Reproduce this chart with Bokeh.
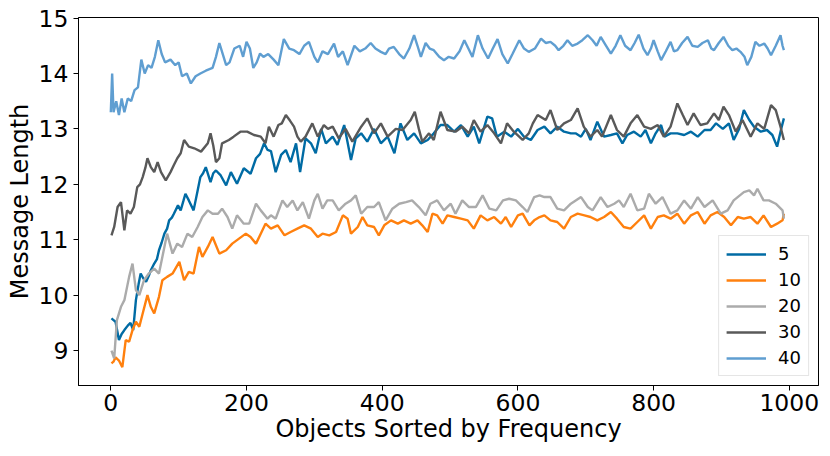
from bokeh.plotting import figure
from bokeh.models import Range1d, FixedTicker
from bokeh.embed import file_html
from bokeh.resources import INLINE

series_names = ["5", "10", "20", "30", "40"]
series_colors = ["#006BA4", "#FF800E", "#ABABAB", "#595959", "#5F9ED1"]

x5 = [1, 4, 7, 12, 16, 20, 25, 29, 33, 37, 41, 44, 48, 52, 56, 59, 64, 68, 71, 75, 79, 83, 86, 90, 93, 99,
      103, 107, 110, 115, 122, 128, 132, 136, 140, 147, 151, 155, 162, 170, 177, 186, 196, 206, 214, 220,
      226, 231, 236, 243, 251, 258, 265, 273, 279, 287, 295, 302, 310, 317, 327, 334, 344, 354, 361, 369,
      378, 388, 398, 408, 418, 427, 437, 447, 457, 467, 476, 486, 496, 506, 516, 526, 535, 543, 555, 562,
      569, 580, 590, 600, 609, 619, 629, 639, 648, 658, 668, 678, 685, 693, 700, 707, 717, 727, 737, 746,
      754, 761, 771, 781, 788, 796, 803, 811, 816, 825, 835, 845, 855, 865, 875, 884, 892, 902, 911, 918,
      926, 933, 941, 948, 958, 967, 975, 982, 988, 992]
y5 = [9.58, 9.55, 9.52, 9.19, 9.3, 9.37, 9.45, 9.5, 9.37, 9.91, 10.2, 10.39, 10.3, 10.24, 10.35, 10.45, 10.57,
      10.65, 10.81, 10.95, 11.11, 11.2, 11.35, 11.4, 11.47, 11.62, 11.53, 11.7, 11.83, 11.71, 11.53, 11.89,
      12.13, 12.2, 12.31, 12.04, 12.2, 12.25, 12.16, 11.98, 12.22, 12.01, 12.29, 12.19, 12.47, 12.55, 12.74,
      12.62, 12.6, 12.22, 12.53, 12.62, 12.4, 12.74, 12.22, 12.83, 12.74, 12.56, 13.0, 12.74, 12.86, 12.71,
      13.07, 12.44, 12.83, 12.92, 12.77, 13.0, 12.74, 12.86, 12.56, 13.1, 12.8, 12.92, 12.74, 12.8, 12.92,
      13.07, 13.07, 12.95, 13.07, 12.86, 13.04, 12.74, 13.22, 13.19, 12.86, 12.95, 12.86, 13.0, 12.86, 12.8,
      12.98, 13.04, 12.92, 13.04, 12.95, 12.92, 12.92, 12.86, 13.0, 12.8, 13.13, 12.86, 12.89, 12.92, 12.74,
      12.89, 12.95, 12.86, 12.98, 12.74, 12.92, 13.07, 12.86, 12.92, 12.92, 12.89, 12.95, 12.86, 12.98,
      12.98, 13.1, 13.0, 13.1, 12.8, 13.0, 13.34, 13.16, 13.04, 12.95, 12.98, 12.89, 12.68, 13.0, 13.19]

x10 = [1, 4, 7, 12, 17, 22, 27, 32, 37, 42, 47, 54, 59, 64, 71, 76, 83, 91, 101, 108, 115, 122, 130, 135,
       143, 150, 160, 170, 179, 189, 199, 206, 214, 221, 228, 236, 246, 256, 265, 275, 285, 295, 305, 312,
       322, 332, 342, 349, 354, 364, 371, 378, 388, 395, 403, 413, 423, 432, 442, 452, 459, 467, 474, 481,
       489, 496, 506, 516, 526, 535, 545, 555, 565, 575, 582, 590, 600, 607, 617, 624, 632, 639, 648, 658,
       668, 678, 688, 698, 707, 717, 727, 737, 746, 756, 766, 776, 786, 796, 806, 815, 825, 835, 845, 855,
       865, 875, 884, 894, 904, 914, 924, 933, 943, 953, 962, 973, 982, 990, 992]
y10 = [8.77, 8.8, 8.88, 8.82, 8.7, 9.19, 9.16, 9.37, 9.52, 9.43, 9.67, 10.0, 9.79, 9.67, 9.97, 10.27, 10.33,
       10.39, 10.6, 10.27, 10.42, 10.39, 10.87, 10.69, 10.87, 11.05, 10.75, 10.81, 10.93, 11.02, 11.11,
       11.05, 10.93, 11.11, 11.29, 11.2, 11.26, 11.08, 11.14, 11.2, 11.26, 11.2, 11.05, 11.11, 11.08, 11.14,
       11.44, 11.38, 11.11, 11.23, 11.41, 11.26, 11.23, 11.08, 11.26, 11.35, 11.29, 11.35, 11.29, 11.35,
       11.26, 11.14, 11.47, 11.44, 11.29, 11.44, 11.41, 11.38, 11.35, 11.2, 11.44, 11.35, 11.41, 11.29,
       11.41, 11.23, 11.44, 11.47, 11.26, 11.35, 11.41, 11.44, 11.35, 11.32, 11.2, 11.41, 11.47, 11.44,
       11.41, 11.35, 11.41, 11.5, 11.38, 11.23, 11.2, 11.32, 11.44, 11.2, 11.41, 11.44, 11.38, 11.47, 11.29,
       11.44, 11.5, 11.29, 11.44, 11.5, 11.41, 11.26, 11.41, 11.38, 11.41, 11.29, 11.44, 11.23, 11.29,
       11.35, 11.47]

x20 = [1, 5, 9, 15, 20, 27, 32, 37, 42, 49, 56, 64, 71, 79, 83, 91, 98, 105, 113, 120, 128, 135, 143, 150,
       158, 164, 172, 179, 186, 196, 204, 214, 221, 231, 236, 243, 253, 260, 268, 275, 283, 292, 300, 305,
       312, 319, 327, 336, 346, 354, 361, 369, 378, 388, 395, 405, 415, 425, 435, 444, 454, 464, 471, 481,
       491, 501, 508, 518, 528, 538, 548, 558, 568, 578, 587, 597, 607, 614, 624, 632, 639, 648, 658, 668,
       678, 693, 703, 710, 722, 732, 742, 749, 756, 766, 776, 786, 793, 803, 813, 825, 835, 845, 855, 865,
       875, 887, 899, 909, 918, 933, 941, 948, 953, 962, 970, 980, 990, 992]
y20 = [9.0, 8.86, 9.55, 9.79, 9.91, 10.33, 10.57, 10.09, 10.0, 10.27, 10.39, 10.48, 10.39, 10.87, 11.11,
       10.75, 10.93, 10.87, 11.11, 11.05, 11.23, 11.41, 11.53, 11.47, 11.47, 11.56, 11.41, 11.2, 11.44, 11.29,
       11.29, 11.65, 11.53, 11.38, 11.44, 11.38, 11.71, 11.59, 11.71, 11.53, 11.68, 11.38, 11.71, 11.83,
       11.56, 11.71, 11.71, 11.53, 11.65, 11.71, 11.8, 11.47, 11.59, 11.59, 11.68, 11.35, 11.56, 11.65,
       11.68, 11.71, 11.59, 11.44, 11.65, 11.71, 11.53, 11.65, 11.47, 11.71, 11.59, 11.59, 11.8, 11.56,
       11.53, 11.71, 11.74, 11.71, 11.59, 11.5, 11.77, 11.8, 11.77, 11.77, 11.56, 11.53, 11.65, 11.77, 11.59,
       11.53, 11.77, 11.59, 11.65, 11.71, 11.59, 11.83, 11.53, 11.56, 11.83, 11.65, 11.77, 11.47, 11.53,
       11.71, 11.56, 11.77, 11.59, 11.71, 11.47, 11.53, 11.71, 11.86, 11.89, 11.8, 11.92, 11.71, 11.71,
       11.65, 11.53, 11.38]

x30 = [1, 5, 10, 15, 20, 24, 29, 34, 39, 43, 47, 51, 54, 59, 64, 69, 74, 81, 88, 93, 98, 103, 108, 115, 123,
       133, 143, 147, 151, 155, 160, 164, 174, 181, 191, 201, 211, 221, 228, 233, 240, 247, 252, 258, 264,
       270, 275, 280, 287, 297, 305, 314, 320, 327, 336, 346, 356, 369, 378, 388, 398, 408, 420, 430, 442,
       448, 454, 459, 469, 476, 486, 496, 508, 518, 528, 535, 545, 555, 565, 575, 584, 594, 607, 616, 622,
       629, 641, 648, 658, 668, 678, 688, 697, 707, 717, 724, 737, 746, 756, 766, 776, 786, 796, 806, 815,
       825, 835, 843, 850, 859, 869, 879, 889, 896, 903, 911, 921, 931, 943, 953, 963, 973, 980, 987, 992]
y30 = [11.08, 11.23, 11.59, 11.68, 11.17, 11.53, 11.47, 11.59, 11.95, 12.0, 12.13, 12.3, 12.47, 12.31, 12.22,
       12.4, 12.22, 12.07, 12.22, 12.35, 12.47, 12.56, 12.8, 12.68, 12.65, 12.59, 12.74, 12.92, 12.7, 12.4,
       12.47, 12.74, 12.8, 12.86, 12.95, 12.95, 12.89, 12.86, 12.74, 13.04, 12.86, 13.07, 13.1, 13.25,
       13.15, 13.04, 12.86, 12.77, 12.86, 13.1, 12.86, 13.07, 13.0, 13.04, 12.83, 13.0, 12.77, 13.04, 13.19,
       12.92, 13.1, 12.86, 13.0, 12.98, 13.16, 13.31, 13.0, 12.77, 12.92, 12.8, 13.31, 12.98, 12.95, 13.04,
       12.92, 13.16, 12.95, 13.07, 12.92, 12.74, 13.1, 12.95, 12.8, 12.92, 13.1, 13.25, 13.16, 13.34, 12.98,
       13.1, 13.16, 13.37, 13.04, 12.86, 12.98, 12.86, 13.25, 12.98, 12.86, 13.1, 13.25, 13.04, 13.0, 13.07,
       12.86, 13.04, 13.46, 13.25, 13.07, 13.28, 13.07, 13.1, 13.28, 13.16, 13.4, 13.25, 12.95, 13.16,
       12.86, 13.1, 13.0, 13.43, 13.34, 13.04, 12.8]

x40 = [0, 2, 4, 8, 12, 16, 20, 25, 30, 35, 40, 45, 50, 55, 60, 65, 70, 75, 80, 88, 95, 100, 105, 112, 118,
       125, 132, 140, 150, 155, 160, 165, 170, 175, 182, 190, 195, 200, 205, 210, 215, 220, 225, 232, 240,
       247, 255, 263, 270, 278, 285, 292, 300, 305, 312, 320, 329, 335, 342, 349, 359, 367, 375, 383, 390,
       398, 405, 410, 417, 425, 432, 440, 447, 452, 457, 464, 470, 476, 484, 491, 498, 506, 514, 521, 527,
       533, 541, 548, 556, 563, 570, 577, 585, 592, 602, 609, 616, 625, 634, 641, 648, 655, 660, 667, 673,
       680, 688, 695, 703, 710, 716, 722, 730, 737, 744, 751, 758, 766, 772, 778, 785, 791, 796, 800, 806,
       811, 818, 825, 830, 835, 842, 850, 857, 865, 872, 880, 885, 889, 896, 903, 910, 916, 922, 928, 934,
       938, 944, 950, 956, 963, 968, 973, 980, 987, 990, 992]
y40 = [13.3, 14.0, 13.3, 13.5, 13.25, 13.55, 13.3, 13.55, 13.5, 13.7, 13.75, 14.25, 14.0, 14.15, 14.1, 14.3,
       14.6, 14.35, 14.2, 14.25, 14.15, 14.2, 13.95, 14.0, 13.82, 13.95, 14.0, 14.05, 14.1, 14.3, 14.55,
       14.35, 14.15, 14.2, 14.45, 14.5, 14.3, 14.57, 14.45, 14.1, 14.2, 14.36, 14.3, 14.35, 14.25, 14.15,
       14.62, 14.45, 14.42, 14.35, 14.5, 14.57, 14.3, 14.2, 14.4, 14.35, 14.54, 14.3, 14.4, 14.15, 14.5,
       14.4, 14.45, 14.55, 14.45, 14.39, 14.35, 14.45, 14.48, 14.35, 14.27, 14.45, 14.69, 14.5, 14.3, 14.55,
       14.45, 14.42, 14.3, 14.24, 14.3, 14.27, 14.4, 14.6, 14.45, 14.3, 14.69, 14.45, 14.27, 14.45, 14.62,
       14.35, 14.18, 14.35, 14.6, 14.45, 14.39, 14.45, 14.63, 14.55, 14.57, 14.5, 14.42, 14.5, 14.6, 14.5,
       14.54, 14.6, 14.69, 14.6, 14.5, 14.66, 14.5, 14.36, 14.5, 14.69, 14.5, 14.42, 14.55, 14.7, 14.45,
       14.33, 14.45, 14.6, 14.4, 14.24, 14.4, 14.57, 14.4, 14.42, 14.55, 14.66, 14.5, 14.48, 14.55, 14.6,
       14.45, 14.42, 14.55, 14.66, 14.5, 14.42, 14.45, 14.39, 14.3, 14.15, 14.3, 14.57, 14.5, 14.54, 14.45,
       14.33, 14.5, 14.69, 14.5, 14.42]

x_ticks = [0, 200, 400, 600, 800, 1000]
y_ticks = [9, 10, 11, 12, 13, 14, 15]
x_label = "Objects Sorted by Frequency"
y_label = "Message Length"

FONT = "DejaVu Sans"

p = figure(width=822, height=448, output_backend="svg", toolbar_location=None,
           x_range=Range1d(-47.6, 1043), y_range=Range1d(8.37, 15.01),
           min_border_left=78, min_border_right=4, min_border_top=17, min_border_bottom=63)

xs = [x5, x10, x20, x30, x40]
ys = [y5, y10, y20, y30, y40]
for name, color, xv, yv in zip(series_names, series_colors, xs, ys):
    p.line(xv, yv, line_color=color, line_width=2.4, legend_label=name)

p.xgrid.visible = False
p.ygrid.visible = False
p.outline_line_color = "black"
p.outline_line_width = 1
p.outline_line_alpha = 1

p.xaxis.ticker = FixedTicker(ticks=x_ticks)
p.yaxis.ticker = FixedTicker(ticks=y_ticks)
p.xaxis.axis_label = x_label
p.yaxis.axis_label = y_label
for ax in (p.xaxis, p.yaxis):
    ax.axis_label_text_font = FONT
    ax.axis_label_text_font_size = "24px"
    ax.axis_label_text_font_style = "normal"
    ax.axis_label_text_color = "black"
    ax.major_label_text_font = FONT
    ax.major_label_text_font_size = "23.5px"
    ax.major_label_text_color = "black"
    ax.major_tick_out = 5
    ax.major_tick_in = 0
    ax.minor_tick_out = 0
    ax.minor_tick_in = 0
    ax.major_tick_line_color = "black"
    ax.axis_line_color = "black"
p.xaxis.major_label_standoff = 3
p.xaxis.axis_label_standoff = 1
p.yaxis.major_label_standoff = 5
p.yaxis.axis_label_standoff = 2

lg = p.legend[0]
lg.location = "bottom_right"
lg.margin = 9
lg.padding = 7
lg.spacing = 5
lg.glyph_width = 40
lg.glyph_height = 20
lg.label_height = 20
lg.label_standoff = 12
lg.label_text_font = FONT
lg.label_text_font_size = "18px"
lg.label_text_color = "black"
lg.border_line_color = "#cccccc"
lg.border_line_width = 1
lg.background_fill_color = "white"
lg.background_fill_alpha = 0.8

open("out.html", "w").write(file_html(p, INLINE))
